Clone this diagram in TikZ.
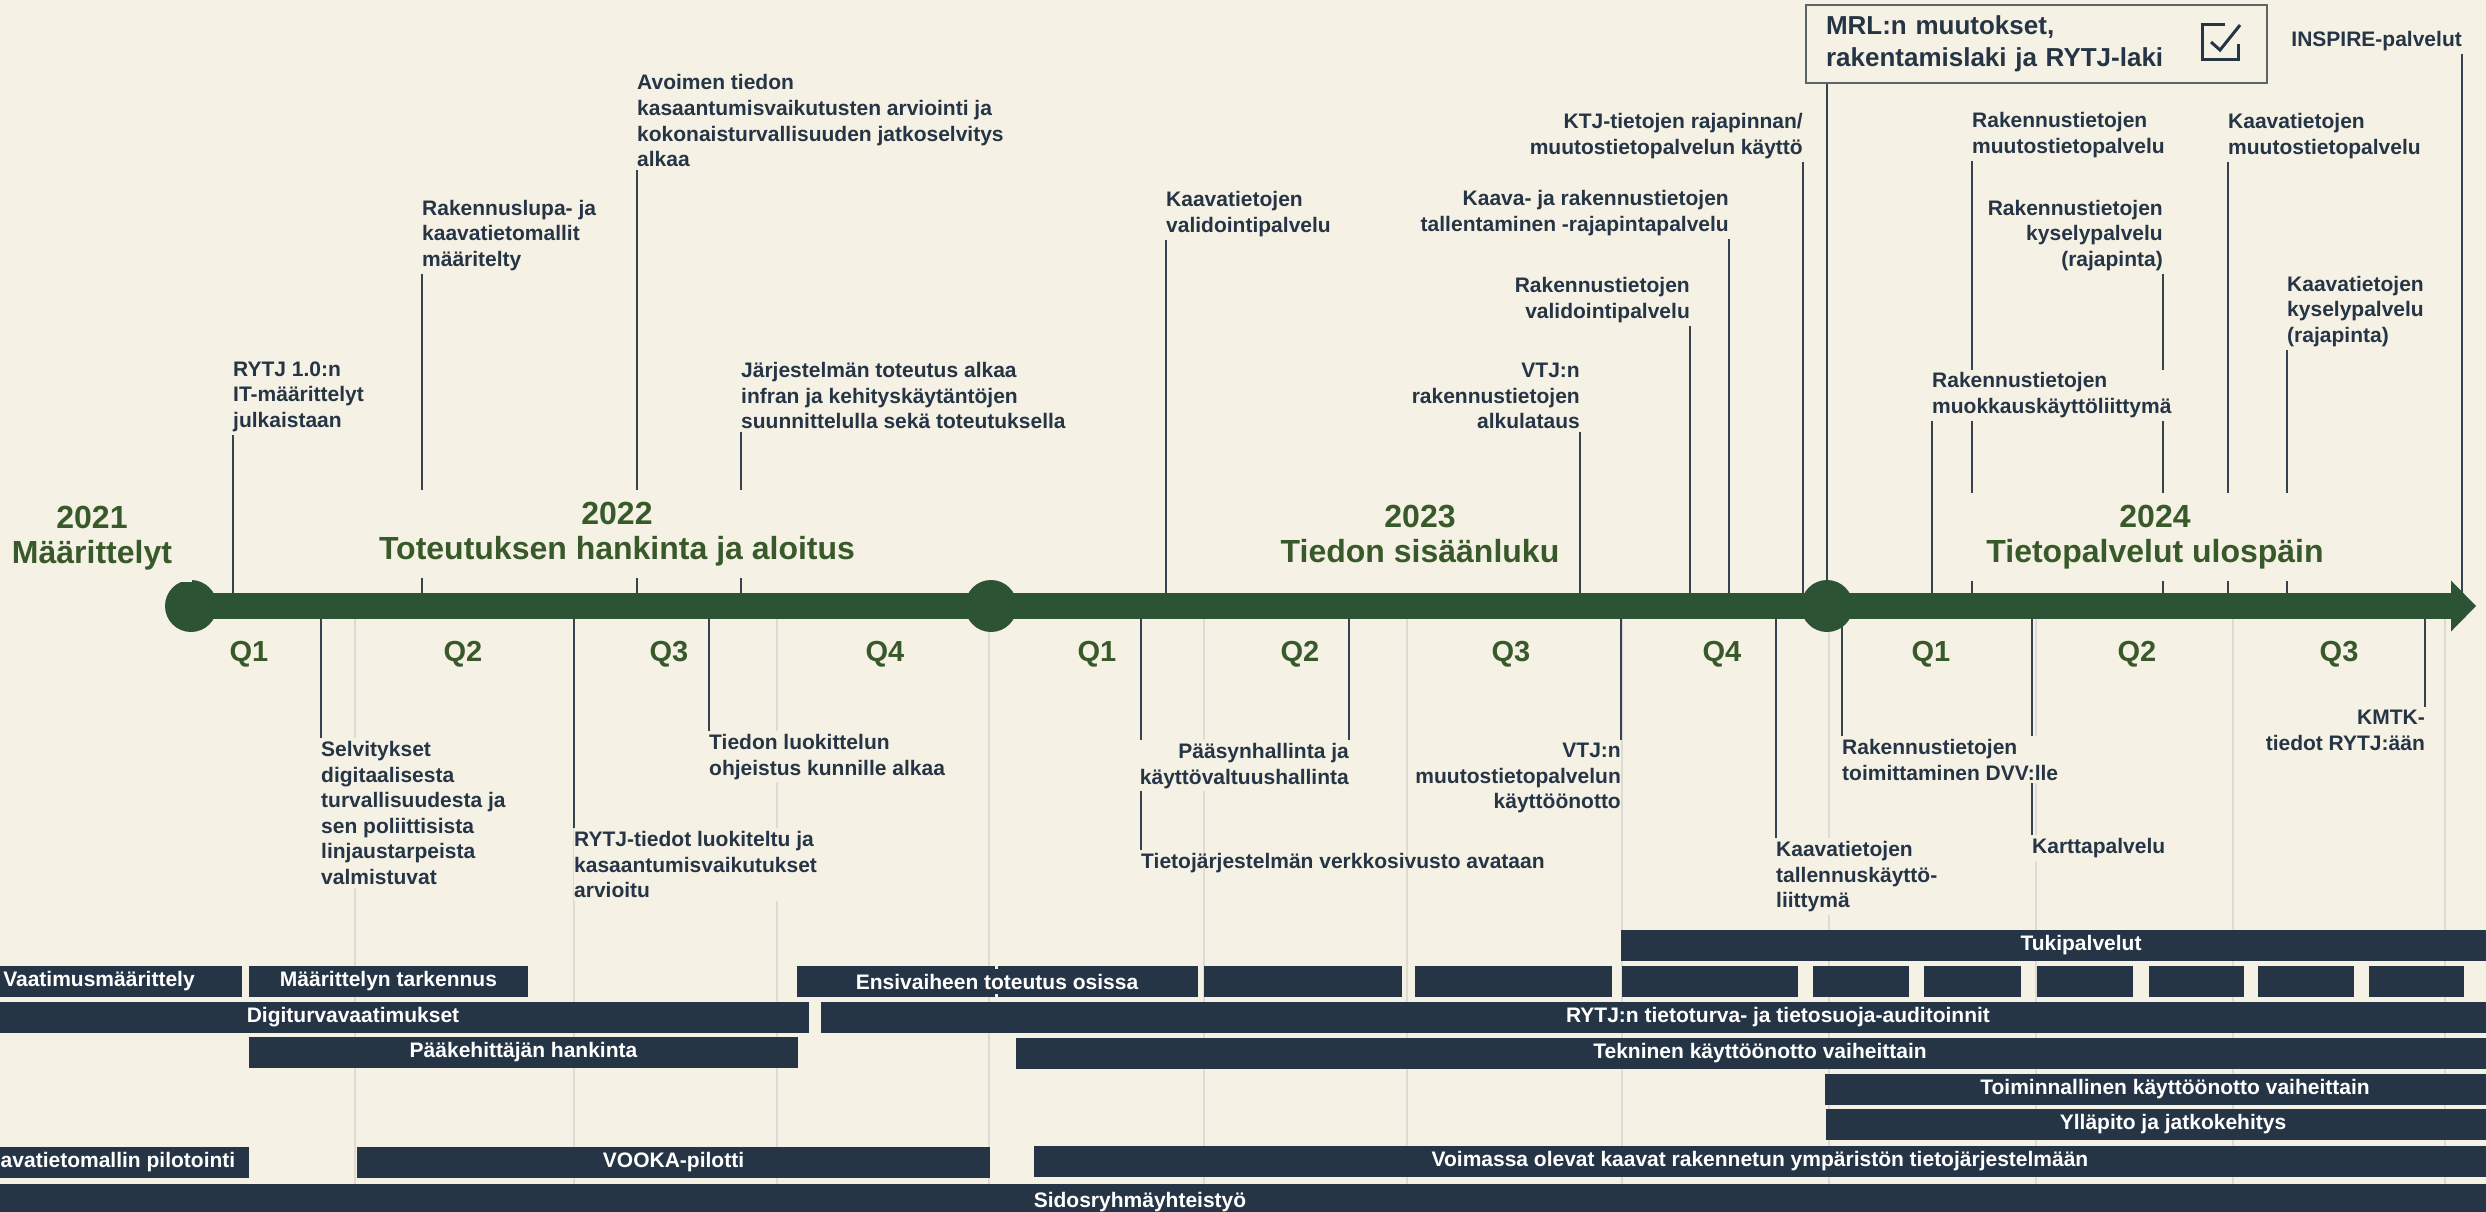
\documentclass[tikz,border=0pt]{standalone}
\usepackage{fontspec}
\setmainfont{Liberation Sans}
\usetikzlibrary{calc}

\definecolor{paper}{RGB}{245,241,228}
\definecolor{navy}{RGB}{38,53,70}
\definecolor{axisgreen}{RGB}{44,84,52}
\definecolor{yeargreen}{RGB}{56,90,42}
\definecolor{stemgray}{RGB}{55,66,78}
\definecolor{gridgray}{RGB}{220,219,212}
\definecolor{boxgray}{RGB}{92,100,104}

\pgfdeclarelayer{grid}
\pgfdeclarelayer{stems}
\pgfsetlayers{grid,stems,main}

\tikzset{
    evt/.style={font=\fontsize{21}{25.6}\selectfont\bfseries, text=navy, fill=paper, inner xsep=0pt, inner ysep=3pt},
    evtL/.style={evt, align=left},
    evtR/.style={evt, align=right},
    stemline/.style={draw=stemgray, line width=1.6pt},
    yr/.style={font=\fontsize{32}{35}\selectfont\bfseries, text=yeargreen, fill=paper, align=center, inner xsep=20pt, inner ysep=12pt},
    qlbl/.style={font=\fontsize{29}{32}\selectfont\bfseries, text=yeargreen},
    yeardot/.style={circle, fill=axisgreen, minimum size=52pt, inner sep=0pt},
    ganttbar/.style={fill=navy, text=white, font=\fontsize{21}{25}\selectfont\bfseries, minimum height=31pt, inner sep=0pt},
    mrlbox/.style={draw=boxgray, line width=2pt, fill=paper, font=\fontsize{26}{32}\selectfont\bfseries, text=navy, align=left, text width=421pt, inner xsep=20pt, minimum height=78pt},
}

\begin{document}
\begin{tikzpicture}[x=1pt,y=-1pt]
        \useasboundingbox (0,0) rectangle (2486,1211);
        \begin{pgfonlayer}{grid}
            \fill[paper] (0,0) rectangle (2486,1211);
            \foreach \x in {355,574,777,989,1204,1407,1622,1829,2036,2233,2445}
                \draw[gridgray, line width=1.5pt] (\x,619) -- (\x,1211);
        \end{pgfonlayer}

        % timeline
        \node[yeardot] (c2021) at (191,606) {};
        \node[yeardot] (c2023) at (991,606) {};
        \node[yeardot] (c2024) at (1827,606) {};
        \coordinate (headbase) at (2451,606);
        \coordinate (axisend) at (2476,606);
        \draw[axisgreen, line width=26pt] (c2021.center) -- (headbase);
        \fill[axisgreen] ($(headbase)+(0,-25.5)$) -- (axisend) -- ($(headbase)+(0,25.5)$) -- cycle;

        \foreach \x/\q in {249/1,463/2,669/3,885/4,1097/1,1300/2,1511/3,1722/4,1931/1,2137/2,2339/3}
            \node[qlbl] (q\x) at (\x,654) {Q\q};

        \node[yr] (y2021) at (92,538) {2021\\Määrittelyt};
        \node[yr] (y2022) at (617,534) {2022\\Toteutuksen hankinta ja aloitus};
        \node[yr] (y2023) at (1420,533.5) {2023\\Tiedon sisäänluku};
        \node[yr] (y2024) at (2155,537) {2024\\Tietopalvelut ulospäin};

        % above the line
        \node[evtL, anchor=south west] (e1) at (233,435) {RYTJ 1.0:n\\IT-määrittelyt\\julkaistaan};
        \node[evtL, anchor=south west] (e2) at (422,274) {Rakennuslupa- ja\\kaavatietomallit\\määritelty};
        \node[evtL, anchor=south west] (e3) at (637,170) {Avoimen tiedon\\kasaantumisvaikutusten arviointi ja\\kokonaisturvallisuuden jatkoselvitys\\alkaa};
        \node[evtL, anchor=south west] (e4) at (741,432) {Järjestelmän toteutus alkaa\\infran ja kehityskäytäntöjen\\suunnittelulla sekä toteutuksella};
        \node[evtL, anchor=south west] (e5) at (1166,240) {Kaavatietojen\\validointipalvelu};
        \node[evtR, anchor=south east] (e6) at (1803,162) {KTJ-tietojen rajapinnan/\\muutostietopalvelun käyttö};
        \node[evtR, anchor=south east] (e7) at (1729,239) {Kaava- ja rakennustietojen\\tallentaminen -rajapintapalvelu};
        \node[evtR, anchor=south east] (e8) at (1690,326) {Rakennustietojen\\validointipalvelu};
        \node[evtR, anchor=south east] (e9) at (1580,432) {VTJ:n\\rakennustietojen\\alkulataus};
        \node[mrlbox, anchor=north west] (mrl) at (1805,4) {MRL:n muutokset,\\rakentamislaki ja RYTJ-laki};
        \draw[navy, line width=3pt] ($(mrl.east)+(-43,-20)$) -- ++(-23,0) -- ++(0,35) -- ++(36,0) -- ++(0,-15);
        \draw[navy, line width=3pt] ($(mrl.east)+(-57,-2)$) -- ++(9,8) -- ++(20,-25);
        \node[evtR, anchor=south east] (e11) at (2462,54) {INSPIRE-palvelut};
        \node[evtL, anchor=south west] (e12) at (1972,161) {Rakennustietojen\\muutostietopalvelu};
        \node[evtR, anchor=south east] (e13) at (2163,274) {Rakennustietojen\\kyselypalvelu\\(rajapinta)};
        \node[evtL, anchor=south west] (e14) at (2228,162) {Kaavatietojen\\muutostietopalvelu};
        \node[evtL, anchor=south west] (e15) at (2287,350) {Kaavatietojen\\kyselypalvelu\\(rajapinta)};
        \node[evtL, anchor=south west] (e16) at (1932,421) {Rakennustietojen\\muokkauskäyttöliittymä};

        % below the line
        \node[evtL, anchor=north west] (b1) at (321,738) {Selvitykset\\digitaalisesta\\turvallisuudesta ja\\sen poliittisista\\linjaustarpeista\\valmistuvat};
        \node[evtL, anchor=north west] (b2) at (574,828) {RYTJ-tiedot luokiteltu ja\\kasaantumisvaikutukset\\arvioitu};
        \node[evtL, anchor=north west] (b3) at (709,731) {Tiedon luokittelun\\ohjeistus kunnille alkaa};
        \node[evtR, anchor=north east] (b4) at (1349,740) {Pääsynhallinta ja\\käyttövaltuushallinta};
        \node[evtL, anchor=north west, fill=none] (b5) at (1141,850) {Tietojärjestelmän verkkosivusto avataan};
        \node[evtR, anchor=north east] (b6) at (1621,740) {VTJ:n\\muutostietopalvelun\\käyttöönotto};
        \node[evtL, anchor=north west] (b7) at (1776,838) {Kaavatietojen\\tallennuskäyttö-\\liittymä};
        \node[evtL, anchor=north west] (b8) at (1842,736) {Rakennustietojen\\toimittaminen DVV:lle};
        \node[evtL, anchor=north west] (b9) at (2032,835) {Karttapalvelu};
        \node[evtR, anchor=north east] (b10) at (2425,707) {KMTK-\\tiedot RYTJ:ään};

        \begin{pgfonlayer}{stems}
            \foreach \n in {e1,e2,e3,e4,e5,e12,e14,e15,e16}
                \draw[stemline] (\n.south west) -- (\n.south west |- c2021.center);
            \foreach \n in {e6,e7,e8,e9,e11,e13}
                \draw[stemline] (\n.south east) -- (\n.south east |- c2021.center);
            \foreach \n in {b1,b2,b3,b5,b7,b8,b9}
                \draw[stemline] (\n.north west) -- (\n.north west |- c2021.center);
            \foreach \n in {b4,b6,b10}
                \draw[stemline] (\n.north east) -- (\n.north east |- c2021.center);
            \draw[stemline] (mrl.south west -| c2024.center) -- (c2024.center);
        \end{pgfonlayer}

        % work packages
        \node[ganttbar, minimum width=286pt] (vaat) at (99,981.5) {Vaatimusmäärittely};
        \node[ganttbar, minimum width=279pt] (tark) at (388.5,981.5) {Määrittelyn tarkennus};
        \node[ganttbar, minimum width=198pt] (ensiA) at (896,981.5) {};
        \node[ganttbar, minimum width=200pt] (ensiB) at (1098,981.5) {};
        \node[ganttbar, minimum height=25pt] (ensi) at (997,981.5) {Ensivaiheen toteutus osissa};
        \foreach \a/\b in {1204/1402,1415/1612,1622/1798,1813/1909,1924/2021,2037/2133,2149/2244,2258/2354,2369/2464}
            \fill[navy] (\a,966) rectangle (\b,997);
        \node[ganttbar, minimum width=920pt] (tuki) at (2081,945.5) {Tukipalvelut};
        \node[ganttbar, minimum width=912pt] (digi) at (353,1017.5) {Digiturvavaatimukset};
        \node[ganttbar, minimum width=1914pt] (audit) at (1778,1017.5) {RYTJ:n tietoturva- ja tietosuoja-auditoinnit};
        \node[ganttbar, minimum width=549pt] (paak) at (523.5,1052.5) {Pääkehittäjän hankinta};
        \node[ganttbar, minimum width=1488pt] (tekn) at (1760,1053) {Tekninen käyttöönotto vaiheittain};
        \node[ganttbar, minimum width=700pt] (toim) at (2175,1089) {Toiminnallinen käyttöönotto vaiheittain};
        \node[ganttbar, minimum width=694pt] (yllap) at (2173,1124.5) {Ylläpito ja jatkokehitys};
        \node[ganttbar, minimum width=262pt] (pilot) at (118,1162) {avatietomallin pilotointi};
        \node[ganttbar, minimum width=633pt] (vooka) at (673.5,1162) {VOOKA-pilotti};
        \node[ganttbar, minimum width=1452pt] (voim) at (1760,1161.5) {Voimassa olevat kaavat rakennetun ympäristön tietojärjestelmään};
        \node[ganttbar, minimum width=2800pt, minimum height=36pt] (sidos) at (1140,1202) {Sidosryhmäyhteistyö};
\end{tikzpicture}
\end{document}
